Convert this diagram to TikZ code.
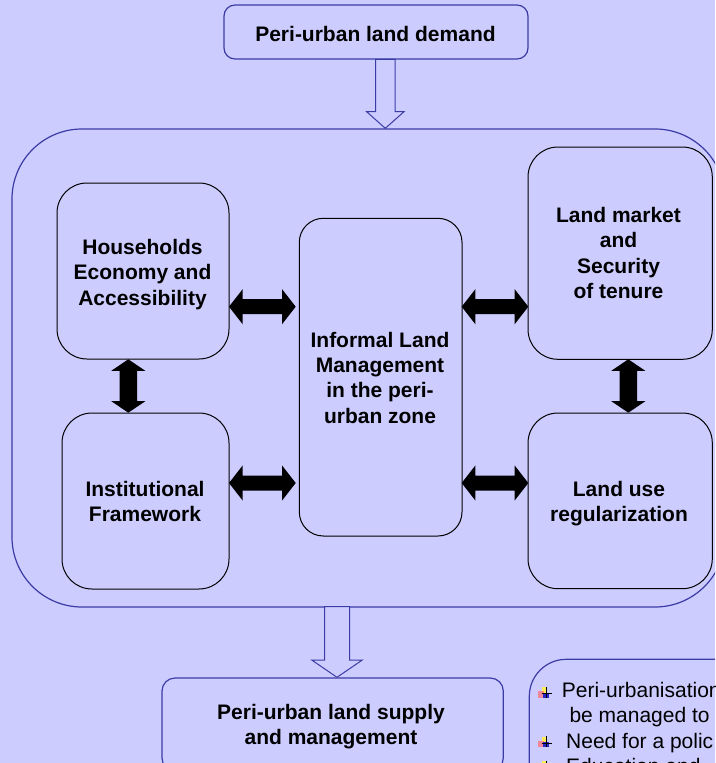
\documentclass[tikz,border=0pt]{standalone}
\usepackage{fontspec}
\setmainfont{Liberation Sans}
\usetikzlibrary{calc}
\definecolor{bg}{RGB}{204,204,255}
\definecolor{bord}{RGB}{60,60,165}
\definecolor{bulyel}{RGB}{255,235,90}
\definecolor{bulred}{RGB}{250,120,130}
\definecolor{bulblu}{RGB}{40,40,200}
\newcommand\dblH[2]{\fill[dblfill] (#1) -- ($(#1)+(13.7,-17.6)$) -- ($(#1)+(13.7,-7.5)$) -- ($(#2)+(-13.7,-7.5)$) -- ($(#2)+(-13.7,-17.6)$) -- (#2) -- ($(#2)+(-13.7,17.6)$) -- ($(#2)+(-13.7,7.5)$) -- ($(#1)+(13.7,7.5)$) -- ($(#1)+(13.7,17.6)$) -- cycle;}
\newcommand\dblV[2]{\fill[dblfill] (#1) -- ($(#1)+(-17,11.5)$) -- ($(#1)+(-8.7,11.5)$) -- ($(#2)+(-8.7,-11.5)$) -- ($(#2)+(-17,-11.5)$) -- (#2) -- ($(#2)+(17,-11.5)$) -- ($(#2)+(8.7,-11.5)$) -- ($(#1)+(8.7,11.5)$) -- ($(#1)+(17,11.5)$) -- cycle;}
\newcommand\hollowD[5]{\filldraw[hollowarrow] ($(#1)+(-#3,0)$) -- ($(#2)+(-#3,-#5)$) -- ($(#2)+(-#4,-#5)$) -- (#2) -- ($(#2)+(#4,-#5)$) -- ($(#2)+(#3,-#5)$) -- ($(#1)+(#3,0)$) -- cycle;}
\tikzset{
  bbox/.style={draw=bord, line width=1.2pt, inner sep=0pt, fill=bg},
  kbox/.style={draw=black, line width=1pt, inner sep=0pt, fill=bg, rounded corners=30pt},
  txt/.style={inner sep=0pt, align=center, font=\fontsize{21}{25.4}\selectfont\bfseries},
  btxt/.style={inner sep=0pt, anchor=base west, font=\fontsize{21}{25.4}\selectfont},
  dblfill/.style={fill=black},
  hollowarrow/.style={draw=bord, fill=bg, line width=1pt, line join=miter},
  bulletpic/.pic={
    \fill[bulyel] (-5,-6.5) rectangle (0.5,-1);
    \fill[bulred, opacity=0.8] (-8.5,-2.5) rectangle (-3,4);
    \fill[bulblu] (-4,-1) rectangle (2,4);
    \draw[black, line width=0.9pt] (0,-7) -- (0,4) (-5,0) -- (5.5,0);
  }
}
\begin{document}
\begin{tikzpicture}[x=1pt,y=-1pt]
\useasboundingbox (0,0) rectangle (715,763);
\clip (0,0) rectangle (715,763);
\fill[bg] (0,0) rectangle (715,763);

% outer zone
\node[bbox, minimum width=713pt, minimum height=478pt, rounded corners=70pt] (zone) at (368.5,368) {};

% top and bottom boxes
\node[bbox, minimum width=304pt, minimum height=54pt, rounded corners=11pt] (demand) at (376,32) {};
\node[txt] (demandt) at (375.5,34.1) {Peri-urban land demand};

\node[bbox, minimum width=341.3pt, minimum height=93pt, rounded corners=13pt] (supply) at (332.65,724.5) {};
\node[txt] (supplyt) at (331,726.6) {Peri-urban land supply\\and management};

\node[bbox, minimum width=230.7pt, minimum height=160.7pt, rounded corners=37pt] (notes) at (644.65,739.65) {};

% inner boxes
\node[kbox, minimum width=172pt, minimum height=176pt] (house) at (143,271) {};
\node[txt] (houset) at (142.5,274.2) {Households\\Economy and\\Accessibility};

\node[kbox, minimum width=167pt, minimum height=176pt] (inst) at (145.5,501) {};
\node[txt] (instt) at (145,501.6) {Institutional\\Framework};

\node[kbox, minimum width=162.7pt, minimum height=317.7pt, rounded corners=24pt] (mid) at (380.65,377.15) {};
\node[txt] (midt) at (380,377.7) {Informal Land\\Management\\in the peri-\\urban zone};

\node[kbox, minimum width=184.3pt, minimum height=212.3pt] (market) at (620.15,253.15) {};
\node[txt] (markett) at (618.5,252.9) {Land market\\and\\Security\\of tenure};

\node[kbox, minimum width=184.3pt, minimum height=175.7pt] (landuse) at (620.15,500.85) {};
\node[txt] (landuset) at (619,503.8) {Land use\\regularization};

% arrow end coordinates
\coordinate (a1s) at (385.3,59.3);
\coordinate (a1e) at (385.3,128.3);
\coordinate (a2s) at (337,606.7);
\coordinate (a2e) at (337,677.3);
\coordinate (h1a) at (229,306.7);
\coordinate (h1b) at (295.7,306.7);
\coordinate (h2a) at (229,483);
\coordinate (h2b) at (295.7,483);
\coordinate (h3a) at (461.7,306.7);
\coordinate (h3b) at (528.3,306.7);
\coordinate (h4a) at (461.7,483);
\coordinate (h4b) at (528.3,483);
\coordinate (v1a) at (128.3,359.3);
\coordinate (v1b) at (128.3,412.7);
\coordinate (v2a) at (628.3,359.3);
\coordinate (v2b) at (628.3,412.7);

\hollowD{a1s}{a1e}{9.7}{18.7}{16.6}
\hollowD{a2s}{a2e}{12.5}{25.3}{17.3}

\dblH{h1a}{h1b}
\dblH{h2a}{h2b}
\dblH{h3a}{h3b}
\dblH{h4a}{h4b}
\dblV{v1a}{v1b}
\dblV{v2a}{v2b}

% bullet list
\pic at (546.5,693.5) {bulletpic};
\pic at (546.5,743.3) {bulletpic};
\pic at (546.5,767.5) {bulletpic};
\node[btxt] (b1) at (561.7,697.7) {Peri-urbanisation};
\node[btxt] (b1b) at (569.3,722.3) {be managed to};
\node[btxt] (b2) at (566,748.3) {Need for a polic};
\node[btxt] (b3) at (566,773.5) {Education and};
\end{tikzpicture}
\end{document}
